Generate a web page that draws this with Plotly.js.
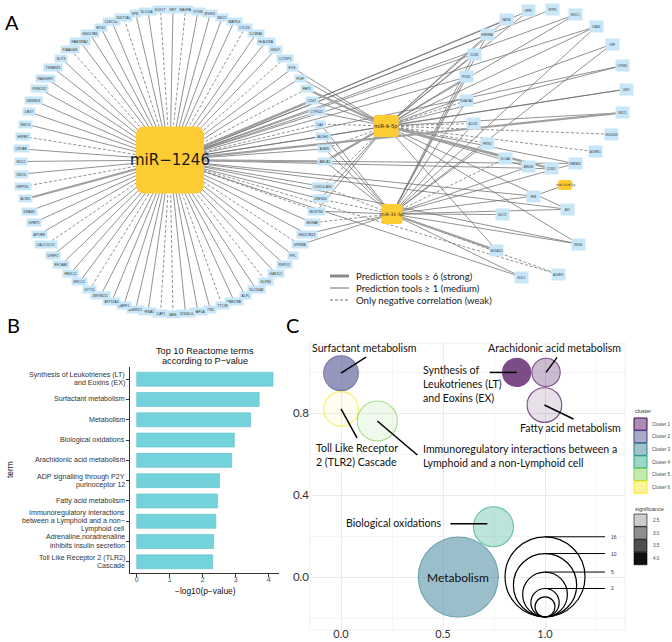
<!DOCTYPE html>
<html><head><meta charset="utf-8">
<script src="https://cdn.plot.ly/plotly-3.0.1.min.js"></script>
<style>html,body{margin:0;padding:0;background:#fff}#chart{width:672px;height:642px}</style>
</head><body><div id="chart"></div>
<script>
// ================= DATA =================
// ---- Panel A: miRNA-target network ----
const hubNames = ["miR-1246", "miR-9-5p", "miR-31-5p", "miR-3136-5p"];
// targets of miR-1246 arranged on the big ring (clockwise from the top)
const ringTargets = ["RET","NAGPA","PYGM","MYH11","NDC1","MAPK4","LTC4S","IL13RA2","HLA-DRA","GNG7",
  "CCT6P1","FOS","FIGF","FBP1","CD47","CYP4Z1","CA4","ALDH2","AGER","ABCA1",
  "CXXC4-AS1","ZNF404","MUSTN1","MXRA8","HSD17B13","GPNMB","PPL","RSPO2","GAS2L2","SLFN5",
  "SLC34A2","ALPL","FAM178B","TTC38","RTN1","CHAF1A","CD300LG","JAML","ACAP1","CHRNA1",
  "ANKRD1","NBPF1","ATP13A4","ZMYND11","SYT15","ERCC1","FBXL12","EFCAB1","DPEP2","CALCOCO1",
  "APOBR","GPBP1","DRAM1","ACIN1","INPP5D","SNCG","SDC2","CRYAB","HSPB7","RHCG",
  "CBX7","DENND3","PKNOX2","RASGRF2","TSPAN33","SLIT3","KIAA0408","FAM189A2","HSD17B6","BTG2",
  "CLEC3B","SULT1A1","SPN","SLC14A1","SOX17"];
// edge type miR-1246 -> ring target: s = strong, m = medium, w = weak
const ringEdgeType = ("mwmmmmwmmm" + "wmmwsmwmms" + "mmwmmwmmmw" + "mmmwmmmwwm" +
  "mmmmwmmmmw" + "mmmswmmmwm" + "mmmmmmwmmm" + "mwmmw").split("");
const rightTargets = ["HNRNPA1","KAT6B","VIPR1","SFTPD","NKX2-1","ICAM4","VWF","CYP4B1","LMO7","SNX25",
  "LINC00092","ADGRD1","SPATA18","CCND1","ARID5B","SLC6A4","PRTN3","ACOXL","ST6GALNAC1","PTGS1","CLDN5"];
const smallTargets = ["MLLT3","NFIB","AK5","SNX30","ADGRF5","EDIL3","CACNA2D2"];
const mir1246RightTargets = ["KAT6B","VIPR1","SFTPD","NKX2-1","ICAM4","CYP4B1","LMO7","SNX25","SPATA18","CCND1","NFIB","AK5","SNX30","ADGRF5","EDIL3","HNRNPA1","CLDN5","PTGS1"];
const mir1246RightTypes   = ["m","m","m","m","m","m","m","s","m","m","m","m","m","w","m","m","m","m"];
const mir9Targets = ["FOS","FIGF","FBP1","CD47","CYP4Z1","CA4","ALDH2","AGER","ABCA1","CXXC4-AS1","ZNF404","MUSTN1",
  "HNRNPA1","KAT6B","VIPR1","CLDN5","PTGS1","ST6GALNAC1","ACOXL","PRTN3","SLC6A4","ARID5B","CCND1","SPATA18",
  "ADGRD1","LINC00092","SNX25","LMO7","CYP4B1","VWF","ICAM4","NKX2-1","AK5","SNX30","CACNA2D2"];
const mir9Types = ["m","m","s","m","m","w","m","w","s","w","m","m",
  "m","m","m","m","m","w","w","w","m","m","s","m",
  "w","w","m","m","m","m","m","m","m","m","m"];
const mir31Targets = ["CA4","ALDH2","AGER","ABCA1","CXXC4-AS1","ZNF404","MUSTN1","MXRA8","HSD17B13","GPNMB",
  "HNRNPA1","CLDN5","PTGS1","ST6GALNAC1","ACOXL","PRTN3","SLC6A4","ARID5B","SPATA18","NFIB","AK5","MLLT3",
  "CACNA2D2","EDIL3","ADGRF5","SNX30","VWF","ICAM4"];
const mir31Types = ["m","m","m","m","w","w","m","w","m","m",
  "m","m","m","m","m","m","w","m","m","m","m","m",
  "s","m","w","m","m","m"];
const mir3136Targets = ["NFIB"];
const mir3136Types = ["m"];
const edgeLegendLabels = ["Prediction tools \u2265 6 (strong)", "Prediction tools \u2265 1 (medium)", "Only negative correlation (weak)"];

// ---- Panel B: top 10 Reactome terms ----
const terms = ["Synthesis of Leukotrienes (LT)<br>and Eoxins (EX)", "Surfactant metabolism", "Metabolism",
  "Biological oxidations", "Arachidonic acid metabolism", "ADP signalling through P2Y<br>purinoceptor 12",
  "Fatty acid metabolism", "Immunoregulatory interactions<br>between a Lymphoid and a non\u2212<br>Lymphoid cell",
  "Adrenaline,noradrenaline<br>inhibits insulin secretion", "Toll Like Receptor 2 (TLR2)<br>Cascade"];
const negLog10P = [4.13, 3.71, 3.45, 2.96, 2.88, 2.51, 2.45, 2.40, 2.33, 2.30];

// ---- Panel C: term clusters ----
const bubbleTerms = ["Surfactant metabolism", "Toll Like Receptor<br>2 (TLR2) Cascade",
  "Immunoregulatory interactions between a<br>Lymphoid and a non-Lymphoid cell",
  "Synthesis of<br>Leukotrienes (LT)<br>and Eoxins (EX)", "Arachidonic acid metabolism",
  "Fatty acid metabolism", "Biological oxidations", "Metabolism"];
const bubbleX = [0.00, 0.00, 0.178, 0.861, 1.005, 0.997, 0.747, 0.575];
const bubbleY = [0.994, 0.820, 0.761, 0.998, 0.998, 0.839, 0.245, 0.000];
const bubbleGenes = [3, 3, 4, 2, 2, 3, 4, 16];
const bubbleCluster = [2, 6, 5, 1, 1, 1, 4, 3];
const bubbleSig = [3.71, 2.30, 2.40, 4.13, 2.88, 2.45, 2.96, 3.45];
const clusterNames = ["Cluster 1","Cluster 2","Cluster 3","Cluster 4","Cluster 5","Cluster 6"];
const sizeBreaks = [16, 10, 5, 2, 1];
const sizeBreakLabels = ["16", "10", "5", "2", ""];
const sigBreaks = [2.5, 3.0, 3.5, 4.0];

// ================= LAYOUT HELPERS =================
const W = 672, H = 642;
const px = x => x / W, py = y => 1 - y / H;
const FONT = "Lato, 'Open Sans', sans-serif";
const ARIAL = "Liberation Sans, Arial, sans-serif";
const viridis6 = ["#440154", "#414487", "#2A788E", "#22A884", "#7AD151", "#FDE725"];
function rgba(hex, a) {
  const n = parseInt(hex.slice(1), 16);
  return `rgba(${(n >> 16) & 255},${(n >> 8) & 255},${n & 255},${a.toFixed(3)})`;
}
const sMin = Math.min(...bubbleSig), sMax = Math.max(...bubbleSig);
const alphaOf = s => 0.1 + 0.9 * (s - sMin) / (sMax - sMin);

// ---- network layout ----
const RING = {cx: 173, cy: 161.5, rx: 152, ry: 152.5, slots: 76, gapAfter: 19};
const RRING = {cx: 546, cy: 89, r: 80, start: -137};
const SRING = {cx: 537, cy: 238, r: 42, start: -146};
const pos = {};
ringTargets.forEach((n, i) => {
  const slot = i > RING.gapAfter ? i + 1 : i;
  const th = (90 - slot * 360 / RING.slots) * Math.PI / 180;
  pos[n] = [RING.cx + RING.rx * Math.cos(th), RING.cy - RING.ry * Math.sin(th)];
});
rightTargets.forEach((n, i) => {
  const th = (RRING.start + i * 360 / rightTargets.length) * Math.PI / 180;
  pos[n] = [RRING.cx + RRING.r * Math.cos(th), RRING.cy + RRING.r * Math.sin(th)];
});
smallTargets.forEach((n, i) => {
  const th = (SRING.start + i * 360 / smallTargets.length) * Math.PI / 180;
  pos[n] = [SRING.cx + SRING.r * Math.cos(th), SRING.cy + SRING.r * Math.sin(th)];
});
const HUBSTYLE = [
  {x: RING.cx - 3, y: RING.cy - 1.5, w: 68, h: 67, rad: 9, fs: 15},
  {x: 386, y: 126, w: 25, h: 22, rad: 3, fs: 5.2},
  {x: 392, y: 214, w: 21, h: 20, rad: 3, fs: 4.6},
  {x: SRING.cx + 60 * Math.cos(-62 * Math.PI / 180), y: SRING.cy + 60 * Math.sin(-62 * Math.PI / 180), w: 14, h: 10, rad: 2, fs: 3}
];
hubNames.forEach((n, i) => pos[n] = [HUBSTYLE[i].x, HUBSTYLE[i].y]);

const E = {s: {x: [], y: []}, m: {x: [], y: []}, w: {x: [], y: []}};
function addEdges(hub, targets, types) {
  targets.forEach((t, i) => {
    const a = pos[hub], b = pos[t], e = E[types[i]];
    e.x.push(a[0], b[0], null); e.y.push(a[1], b[1], null);
  });
}
addEdges("miR-1246", ringTargets, ringEdgeType);
addEdges("miR-1246", mir1246RightTargets, mir1246RightTypes);
addEdges("miR-9-5p", mir9Targets, mir9Types);
addEdges("miR-31-5p", mir31Targets, mir31Types);
addEdges("miR-3136-5p", mir3136Targets, mir3136Types);

const EDGESTYLE = {
  s: {color: "#a0a0a0", width: 2.2, dash: "solid"},
  m: {color: "#6e6e6e", width: 0.75, dash: "solid"},
  w: {color: "#6e6e6e", width: 0.75, dash: "3px,2px"}
};

const traces = [];
// Panel B bars
traces.push({
  type: "bar", orientation: "h", x: negLog10P, y: terms, xaxis: "x", yaxis: "y",
  marker: {color: "#74D2DC", line: {color: "#5CBFCA", width: 0.6}}, hoverinfo: "skip"
});
// Panel C bubbles
traces.push({
  type: "scatter", mode: "markers", x: bubbleX, y: bubbleY, xaxis: "x2", yaxis: "y2",
  marker: {
    size: bubbleGenes, sizemode: "area", sizeref: 0.005,
    color: bubbleCluster.map((c, i) => rgba(viridis6[c - 1], alphaOf(bubbleSig[i]))),
    line: {color: bubbleCluster.map(c => viridis6[c - 1]), width: 1.1}
  }, hoverinfo: "skip"
});
// Panel A edges
["w", "m", "s"].forEach(k => traces.push({
  type: "scatter", mode: "lines", x: E[k].x, y: E[k].y, xaxis: "x3", yaxis: "y3",
  line: {color: EDGESTYLE[k].color, width: EDGESTYLE[k].width, dash: EDGESTYLE[k].dash},
  hoverinfo: "skip", connectgaps: false
}));

const shapes = [], annotations = [];
// hub boxes
function rr(cx, cy, w, h, r) {
  const x0 = cx - w / 2, x1 = cx + w / 2, y0 = cy - h / 2, y1 = cy + h / 2;
  return `M${x0 + r},${y0} L${x1 - r},${y0} Q${x1},${y0} ${x1},${y0 + r} L${x1},${y1 - r} Q${x1},${y1} ${x1 - r},${y1} ` +
         `L${x0 + r},${y1} Q${x0},${y1} ${x0},${y1 - r} L${x0},${y0 + r} Q${x0},${y0} ${x0 + r},${y0} Z`;
}
hubNames.forEach((n, i) => {
  const h = HUBSTYLE[i];
  shapes.push({type: "path", xref: "x3", yref: "y3", path: rr(h.x, h.y, h.w, h.h, h.rad),
    fillcolor: "#FDCB33", line: {width: 0}, layer: "above"});
  annotations.push({xref: "x3", yref: "y3", x: h.x, y: h.y, text: n.replace("-", i === 0 ? "\u2212" : "-"), showarrow: false,
    xanchor: "center", yanchor: "middle", font: {family: "DejaVu Sans, sans-serif", size: h.fs, color: "#1a1a1a"}});
});
// target node labels
ringTargets.forEach(n => annotations.push({xref: "x3", yref: "y3", x: pos[n][0], y: pos[n][1], text: n, showarrow: false,
  xanchor: "center", yanchor: "middle",
  font: {family: ARIAL, size: 3.3, color: "#333"}, bgcolor: "#C7E6F8", borderpad: 1.6}));
rightTargets.concat(smallTargets).forEach(n => annotations.push({xref: "x3", yref: "y3", x: pos[n][0], y: pos[n][1], text: n, showarrow: false,
  xanchor: "center", yanchor: "middle",
  width: 13, height: 11, font: {family: ARIAL, size: 2.6, color: "#333"}, bgcolor: "#C7E6F8", borderpad: 0}));

// network legend
[["s", 276], ["m", 288], ["w", 300]].forEach(([k, y], i) => {
  shapes.push({type: "line", xref: "paper", yref: "paper", x0: px(330), x1: px(349), y0: py(y), y1: py(y),
    line: {color: k === "s" ? "#8a8a8a" : "#6e6e6e", width: k === "s" ? 3 : 1, dash: k === "w" ? "3px,2px" : "solid"}});
  annotations.push({xref: "paper", yref: "paper", x: px(354), y: py(y), xanchor: "left", yanchor: "middle", showarrow: false,
    text: edgeLegendLabels[i], font: {family: FONT, size: 9.6, color: "#1a1a1a"}});
});

// panel letters
[["A", 12, 22], ["B", 13, 325], ["C", 292, 325]].forEach(([t, x, y]) => annotations.push({
  xref: "paper", yref: "paper", x: px(x), y: py(y), text: t, showarrow: false, xanchor: "center", yanchor: "middle",
  font: {family: FONT, size: 20, color: "#000"}}));

// Panel B texts
const cAnn = (x, y, text, size, extra) => Object.assign({xref: "paper", yref: "paper", x: px(x), y: py(y), text: text,
  showarrow: false, xanchor: "center", yanchor: "middle", font: {family: ARIAL, size: size, color: "#111"}}, extra || {});
annotations.push(cAnn(205, 351, "Top 10 Reactome terms", 9.2));
annotations.push(cAnn(205, 361, "according to P\u2212value", 9.2));
annotations.push(cAnn(205, 590.5, "\u2212log10(p\u2212value)", 8.4));
annotations.push(cAnn(10, 470, "term", 8.4, {textangle: -90}));
// Panel B category labels (tight line spacing like the original)
const LINE_H = 8.2;
terms.forEach(t => {
  const lines = t.split("<br>");
  lines.forEach((ln, j) => annotations.push({xref: "paper", yref: "y", x: px(127), y: t,
    yshift: ((lines.length - 1) / 2 - j) * LINE_H, xanchor: "right", yanchor: "middle", showarrow: false, text: ln,
    font: {family: ARIAL, size: 7.1, color: "#333"}}));
});

// Panel C bubble labels with leader lines (offsets in px from bubble centre)
const LBL = [
  {dx: 23, dy: 25, xa: "center", line: [0, 0, 25, 16]},
  {dx: -27, dy: -46, xa: "left", line: [0, 0, 16, -29]},
  {dx: 44, dy: -34.5, xa: "left", line: [0, 0, 40, -34]},
  {dx: -96, dy: -12, xa: "left", line: [0, 0, -27, 0]},
  {dx: 8, dy: 24, xa: "center", line: [0, 0, 11, 15]},
  {dx: 26, dy: -23, xa: "center", line: [0, 0, 29, -14]},
  {dx: -99, dy: 4, xa: "center", line: [-43, 3, -6, 3]},
  {dx: 0, dy: 0, xa: "center", line: null}
];
bubbleTerms.forEach((t, i) => {
  const L = LBL[i];
  if (L.line) shapes.push({type: "line", xref: "x2", yref: "y2", xsizemode: "pixel", ysizemode: "pixel",
    xanchor: bubbleX[i], yanchor: bubbleY[i], x0: L.line[0], y0: L.line[1], x1: L.line[2], y1: L.line[3],
    line: {color: "#000", width: 1.5}});
  annotations.push({xref: "x2", yref: "y2", x: bubbleX[i], y: bubbleY[i], xshift: L.dx, yshift: L.dy,
    xanchor: L.xa, yanchor: "middle", align: "left", showarrow: false, text: t,
    font: {family: FONT, size: i === 7 ? 12 : 10.6, color: "#111"}});
});
// size legend
const SL = {x: 1.0, yBottom: -0.194, lineLen: 60, labelDx: 64};
sizeBreaks.forEach((n, i) => {
  const r = Math.sqrt(n / (2 * 0.005));
  shapes.push({type: "circle", xref: "x2", yref: "y2", xsizemode: "pixel", ysizemode: "pixel",
    xanchor: SL.x, yanchor: SL.yBottom, x0: -r, x1: r, y0: 0, y1: 2 * r, line: {color: "#000", width: 1.2}});
  if (sizeBreakLabels[i]) {
    shapes.push({type: "line", xref: "x2", yref: "y2", xsizemode: "pixel", ysizemode: "pixel",
      xanchor: SL.x, yanchor: SL.yBottom, x0: 0, x1: SL.lineLen, y0: 2 * r, y1: 2 * r, line: {color: "#000", width: 1}});
    annotations.push({xref: "x2", yref: "y2", x: SL.x, y: SL.yBottom, xshift: SL.labelDx, yshift: 2 * r,
      xanchor: "left", yanchor: "middle", showarrow: false, text: sizeBreakLabels[i],
      font: {family: ARIAL, size: 5, color: "#333"}});
  }
});
// cluster legend
annotations.push({xref: "paper", yref: "paper", x: px(633), y: py(411), xanchor: "left", yanchor: "middle", showarrow: false, text: "cluster",
  font: {family: ARIAL, size: 5.5, color: "#333"}});
clusterNames.forEach((c, i) => {
  const y0 = 418 + i * 12.6;
  shapes.push({type: "rect", xref: "paper", yref: "paper", x0: px(634), x1: px(647), y0: py(y0), y1: py(y0 + 12.2),
    fillcolor: rgba(viridis6[i], 0.45), line: {color: viridis6[i], width: 1}});
  annotations.push({xref: "paper", yref: "paper", x: px(650), y: py(y0 + 6.2), xanchor: "left", yanchor: "middle", showarrow: false, text: c,
    font: {family: ARIAL, size: 4.5, color: "#444"}});
});
annotations.push({xref: "paper", yref: "paper", x: px(633), y: py(509), xanchor: "left", yanchor: "middle", showarrow: false, text: "significance",
  font: {family: ARIAL, size: 5.5, color: "#333"}});
sigBreaks.forEach((s, i) => {
  const y0 = 514 + i * 12.8;
  shapes.push({type: "rect", xref: "paper", yref: "paper", x0: px(634), x1: px(647), y0: py(y0), y1: py(y0 + 12.4),
    fillcolor: `rgba(0,0,0,${alphaOf(s).toFixed(3)})`, line: {color: "rgba(0,0,0,0.75)", width: 0.8}});
  annotations.push({xref: "paper", yref: "paper", x: px(651), y: py(y0 + 6.2), xanchor: "left", yanchor: "middle", showarrow: false,
    text: s.toFixed(1), font: {family: ARIAL, size: 4.6, color: "#444"}});
});
// faint frame panel C
shapes.push({type: "rect", xref: "paper", yref: "paper", x0: px(310), x1: px(625), y0: py(630), y1: py(343),
  line: {color: "#EFEFEF", width: 1}, layer: "below"});

const layout = {
  width: W, height: H, margin: {l: 0, r: 0, t: 0, b: 0}, showlegend: false,
  paper_bgcolor: "#fff", plot_bgcolor: "rgba(0,0,0,0)", bargap: 0.31,
  xaxis: {domain: [px(130), px(279)], range: [-0.203, 4.312], tickvals: [0, 1, 2, 3, 4], ticks: "outside", ticklen: 3,
    tickcolor: "#333", showline: true, linecolor: "#333", linewidth: 1, showgrid: false, zeroline: false,
    ticklabelstandoff: -3,
    tickfont: {family: ARIAL, size: 7, color: "#4d4d4d"}, anchor: "y", fixedrange: true},
  yaxis: {domain: [py(573), py(367)], type: "category", categoryorder: "array", categoryarray: terms,
    range: [9.55, -0.6], ticks: "outside", ticklen: 3, tickcolor: "#333", showline: true, linecolor: "#333",
    linewidth: 1, showgrid: false, zeroline: false, anchor: "x", showticklabels: false, fixedrange: true},
  xaxis2: {domain: [px(310), px(625)], range: [-0.152, 1.392], tick0: 0, dtick: 0.5, tickformat: ".1f",
    showgrid: true, gridcolor: "#EBEBEB", gridwidth: 1, zeroline: false, showline: false, ticks: "",
    ticklabelstandoff: -4,
    minor: {dtick: 0.25, showgrid: true, gridcolor: "#F5F5F5"},
    tickfont: {family: FONT, size: 11, color: "#333"}, anchor: "y2", fixedrange: true},
  yaxis2: {domain: [py(630), py(343)], range: [-0.2585, 1.1415], tick0: 0, dtick: 0.4, tickformat: ".1f",
    showgrid: true, gridcolor: "#EBEBEB", gridwidth: 1, zeroline: false, showline: false, ticks: "",
    minor: {dtick: 0.2, showgrid: true, gridcolor: "#F5F5F5"},
    tickfont: {family: FONT, size: 11.5, color: "#333"}, anchor: "x2", fixedrange: true},
  xaxis3: {domain: [0, 1], range: [0, W], visible: false, anchor: "y3", fixedrange: true},
  yaxis3: {domain: [0, 1], range: [H, 0], visible: false, anchor: "x3", fixedrange: true},
  shapes: shapes, annotations: annotations
};
Plotly.newPlot("chart", traces, layout, {displayModeBar: false, staticPlot: true});
</script></body></html>
